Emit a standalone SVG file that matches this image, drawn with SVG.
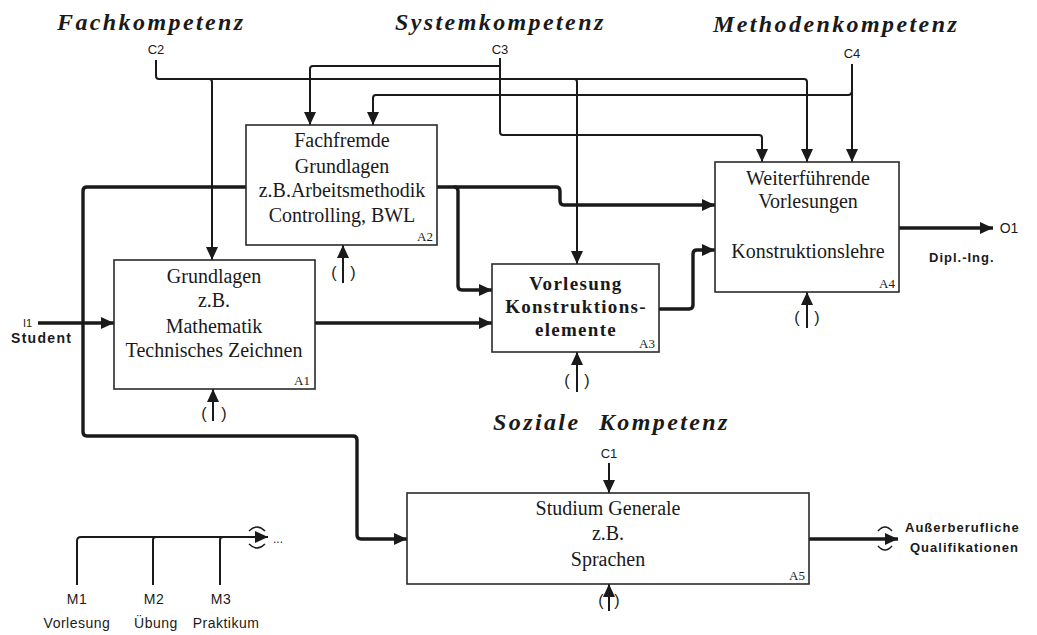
<svg xmlns="http://www.w3.org/2000/svg" width="1037" height="635" viewBox="0 0 1037 635">
  <style>
    .box { fill: #ffffff; stroke: #2a2a2a; stroke-width: 1.6; }
    .title { font-family: "Liberation Serif", "Times New Roman", serif; font-size: 24px; font-weight: bold; font-style: italic; letter-spacing: 2.4px; fill: #1a1a1a; }
    .node { font-family: "Liberation Serif", "Times New Roman", serif; font-size: 20px; fill: #1a1a1a; text-anchor: middle; }
    .nodeb { font-family: "Liberation Serif", "Times New Roman", serif; font-size: 19px; font-weight: bold; letter-spacing: 1.3px; fill: #1a1a1a; text-anchor: middle; }
    .num { font-family: "Liberation Serif", "Times New Roman", serif; font-size: 13px; fill: #1a1a1a; text-anchor: end; }
    .lbl { font-family: "Liberation Sans", Arial, sans-serif; font-size: 13px; fill: #1a1a1a; text-anchor: middle; }
    .lblb { font-family: "Liberation Sans", Arial, sans-serif; font-size: 13px; font-weight: bold; letter-spacing: 1px; fill: #1a1a1a; }
    .mech { font-family: "Liberation Sans", Arial, sans-serif; font-size: 14px; letter-spacing: 0.5px; fill: #1a1a1a; text-anchor: middle; }
    .paren { font-family: "Liberation Sans", Arial, sans-serif; font-size: 16px; fill: #1a1a1a; text-anchor: middle; }
    .thin { fill: none; stroke: #1a1a1a; stroke-width: 2; }
    .thick { fill: none; stroke: #1a1a1a; stroke-width: 3.4; }
    .tunnel { fill: none; stroke: #1a1a1a; stroke-width: 1.5; }
  </style>
  <defs>
    <marker id="arrow" markerUnits="userSpaceOnUse" viewBox="0 0 13 12" markerWidth="13" markerHeight="12" refX="13" refY="6" orient="auto">
      <path d="M0,0 L13,6 L0,12 Z" fill="#1a1a1a"/>
    </marker>
  </defs>

  <rect width="1037" height="635" fill="#ffffff"/>

  <!-- competence headings -->
  <g id="headings">
    <text class="title" x="57" y="30">Fachkompetenz</text>
    <text class="title" x="395" y="30">Systemkompetenz</text>
    <text class="title" x="713" y="32">Methodenkompetenz</text>
    <text class="title" x="493" y="430" word-spacing="10">Soziale Kompetenz</text>
  </g>

  <!-- ICOM connectors -->
  <g id="connectors">
    <!-- controls -->
    <text class="lbl" x="156" y="54">C2</text>
    <path class="thin" d="M156,60 V76 Q156,79 159,79 H804 Q807,79 807,82 V162" marker-end="url(#arrow)"/>
    <path class="thin" d="M209,79 Q212,79 212,82 V260" marker-end="url(#arrow)"/>
    <path class="thin" d="M574,79 Q577,79 577,82 V264" marker-end="url(#arrow)"/>

    <text class="lbl" x="500" y="54">C3</text>
    <path class="thin" d="M500,58 V132 Q500,135 503,135 H759 Q762,135 762,138 V162" marker-end="url(#arrow)"/>
    <path class="thin" d="M500,66 H313 Q310,66 310,69 V125" marker-end="url(#arrow)"/>

    <text class="lbl" x="852" y="58">C4</text>
    <path class="thin" d="M852,64 V162" marker-end="url(#arrow)"/>
    <path class="thin" d="M852,90 Q852,95 848,95 H376 Q373,95 373,98 V125" marker-end="url(#arrow)"/>

    <text class="lbl" x="609" y="458">C1</text>
    <path class="thin" d="M609,463 V493" marker-end="url(#arrow)"/>

    <!-- input I1 -->
    <text x="23" y="327" style="font-family:'Liberation Sans',Arial,sans-serif;font-size:11px;fill:#1a1a1a">I1</text>
    <text class="lblb" x="11" y="343" style="font-size:14px;letter-spacing:1.3px">Student</text>
    <path class="thick" d="M38,323 H114" marker-end="url(#arrow)"/>
    <path class="thick" d="M246,187 H87 Q83,187 83,191 V432 Q83,436 87,436 H353 Q357,436 357,440 V535 Q357,539 361,539 H407" marker-end="url(#arrow)"/>

    <!-- A2 outputs -->
    <path class="thick" d="M437,187 H556 Q560,187 560,191 V201 Q560,205 564,205 H715" marker-end="url(#arrow)"/>
    <path class="thick" d="M454,187 Q458,187 458,191 V286 Q458,290 462,290 H492" marker-end="url(#arrow)"/>

    <!-- A1 output -->
    <path class="thick" d="M315,323 H492" marker-end="url(#arrow)"/>

    <!-- A3 output -->
    <path class="thick" d="M659,309 H689 Q693,309 693,305 V254 Q693,250 697,250 H715" marker-end="url(#arrow)"/>

    <!-- A4 output -->
    <path class="thick" d="M899,228 H993" marker-end="url(#arrow)"/>
    <text class="lbl" x="1009" y="233" style="font-size:14px">O1</text>
    <text class="lblb" x="929" y="262">Dipl.-Ing.</text>

    <!-- A5 output with tunnel -->
    <path class="thick" d="M809,539 H898" marker-end="url(#arrow)"/>
    <path class="tunnel" d="M878,531 Q885,523 892,531"/>
    <path class="tunnel" d="M878,546 Q885,554 892,546"/>
    <text class="lblb" x="905" y="532">Außerberufliche</text>
    <text class="lblb" x="910" y="552">Qualifikationen</text>

    <!-- mechanisms -->
    <path class="thin" d="M213,421 V389" marker-end="url(#arrow)"/>
    <text class="paren" x="204" y="419">(</text>
    <text class="paren" x="224" y="419">)</text>

    <path class="thin" d="M343,283 V245" marker-end="url(#arrow)"/>
    <text class="paren" x="334" y="278">(</text>
    <text class="paren" x="353" y="278">)</text>

    <path class="thin" d="M577,392 V352" marker-end="url(#arrow)"/>
    <text class="paren" x="567" y="386">(</text>
    <text class="paren" x="587" y="386">)</text>

    <path class="thin" d="M807,328 V292" marker-end="url(#arrow)"/>
    <text class="paren" x="797" y="323">(</text>
    <text class="paren" x="817" y="323">)</text>

    <path class="thin" d="M609,611 V584" marker-end="url(#arrow)"/>
    <text class="paren" x="601" y="606">(</text>
    <text class="paren" x="617" y="606">)</text>

    <!-- mechanism tree M1..M3 -->
    <path class="thin" d="M77,585 V541 Q77,537 81,537 H268" marker-end="url(#arrow)"/>
    <path class="thin" d="M153,585 V540 Q153,537 156,537"/>
    <path class="thin" d="M220,585 V540 Q220,537 223,537"/>
    <path class="tunnel" d="M249,531 Q257,523 265,531"/>
    <path class="tunnel" d="M249,544 Q257,552 265,544"/>
    <text x="273" y="543" style="font-family:'Liberation Sans',Arial,sans-serif;font-size:12px;fill:#1a1a1a">...</text>
    <text class="mech" x="77" y="604">M1</text>
    <text class="mech" x="154" y="604">M2</text>
    <text class="mech" x="221" y="604">M3</text>
    <text class="mech" x="77" y="628">Vorlesung</text>
    <text class="mech" x="156" y="628">Übung</text>
    <text class="mech" x="226" y="628">Praktikum</text>
  </g>

  <!-- activities -->
  <g id="A1">
    <rect class="box" x="114" y="260" width="201" height="129"/>
    <text class="node" x="214" y="283">Grundlagen</text>
    <text class="node" x="214" y="307">z.B.</text>
    <text class="node" x="214" y="333">Mathematik</text>
    <text class="node" x="214" y="357">Technisches Zeichnen</text>
    <text class="num" x="310" y="385">A1</text>
  </g>

  <g id="A2">
    <rect class="box" x="246" y="125" width="191" height="120"/>
    <text class="node" x="342" y="147">Fachfremde</text>
    <text class="node" x="342" y="173">Grundlagen</text>
    <text class="node" x="342" y="197">z.B.Arbeitsmethodik</text>
    <text class="node" x="342" y="222">Controlling, BWL</text>
    <text class="num" x="433" y="241">A2</text>
  </g>

  <g id="A3">
    <rect class="box" x="492" y="264" width="167" height="88"/>
    <text class="nodeb" x="576" y="290">Vorlesung</text>
    <text class="nodeb" x="576" y="313">Konstruktions-</text>
    <text class="nodeb" x="576" y="336">elemente</text>
    <text class="num" x="655" y="348">A3</text>
  </g>

  <g id="A4">
    <rect class="box" x="715" y="162" width="184" height="130"/>
    <text class="node" x="808" y="185">Weiterführende</text>
    <text class="node" x="808" y="208">Vorlesungen</text>
    <text class="node" x="808" y="258">Konstruktionslehre</text>
    <text class="num" x="895" y="288">A4</text>
  </g>

  <g id="A5">
    <rect class="box" x="407" y="493" width="402" height="91"/>
    <text class="node" x="608" y="515">Studium Generale</text>
    <text class="node" x="608" y="540">z.B.</text>
    <text class="node" x="608" y="566">Sprachen</text>
    <text class="num" x="805" y="580">A5</text>
  </g>
</svg>
